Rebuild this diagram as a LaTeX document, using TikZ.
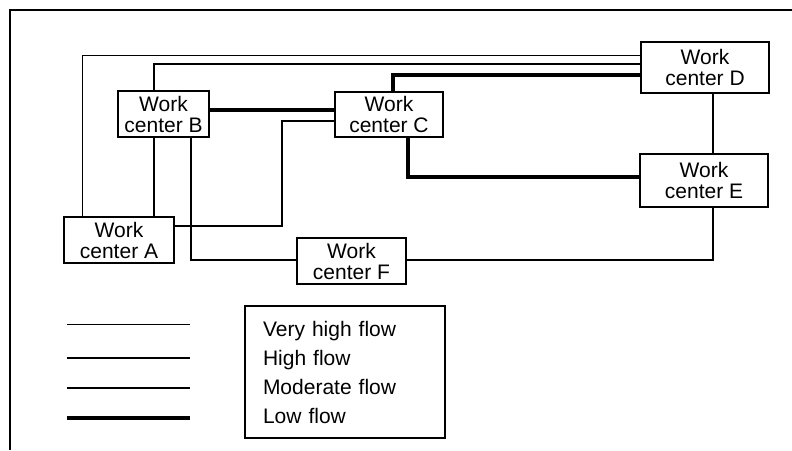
\documentclass[tikz,border=0pt]{standalone}
\usepackage{fontspec}
\setmainfont{Liberation Sans}
\usepackage{tikz}
\usetikzlibrary{calc,positioning}

\begin{document}
\begin{tikzpicture}[x=1pt,y=-1pt,
                    wc/.style={draw,line width=1.4pt,align=center,inner sep=0pt,
                               minimum height=46pt,
                               font=\fontsize{21}{21}\selectfont},
                    vhigh/.style={line width=0.9pt},
                    high/.style={line width=1.3pt},
                    moderate/.style={line width=1.8pt},
                    low/.style={line width=4pt}]
   \useasboundingbox (0,0) rectangle (792,450);
   \draw[line width=1.5pt] (10,450) -- (10,10) -- (792,10);
   \node[wc,minimum width=110pt] (A) at (119,240) {Work\\center A};
   \node[wc,minimum width=91pt] (B) at (163.5,114) {Work\\center B};
   \node[wc,minimum width=108pt,minimum height=45pt] (C) at (389,114.5) {Work\\center C};
   \node[wc,minimum width=128pt,minimum height=51pt] (D) at (705,67.5) {Work\\center D};
   \node[wc,minimum width=128pt,minimum height=53pt] (E) at (704,180.5) {Work\\center E};
   \node[wc,minimum width=109pt] (F) at (351.5,261) {Work\\center F};
   \draw[vhigh] (A.north -| 82,0) |- (D.west |- 0,55);
   \draw[high] (B.north -| 154,0) |- (D.west |- 0,64);
   \draw[low] (C.north -| 393,0) |- (D.west |- 0,75);
   \draw[low] (B.east |- 0,110) -- (C.west |- 0,110);
   \draw[high] (A.east |- 0,226) -| (282,121) -- (C.west |- 0,121);
   \draw[moderate] (B.south -| 154,0) -- (A.north -| 154,0);
   \draw[moderate] (B.south -| 191,0) |- (F.west |- 0,260);
   \draw[low] (C.south -| 408,0) |- (E.west |- 0,177);
   \draw[high] (D.south -| 713,0) -- (E.north -| 713,0);
   \draw[moderate] (E.south -| 713,0) |- (F.east |- 0,260);
   % key
   \foreach \y/\s in {324/vhigh,358/high,388/moderate,418/low}
      \draw[\s] (67,\y) -- (190,\y);
   \node[draw,line width=1.4pt,minimum width=200pt,minimum height=132pt,
         inner xsep=18pt,text width=164pt,align=left,
         font=\fontsize{21}{29}\selectfont] (key) at (345,372)
         {Very high flow\\High flow\\Moderate flow\\Low flow};
\end{tikzpicture}
\end{document}
